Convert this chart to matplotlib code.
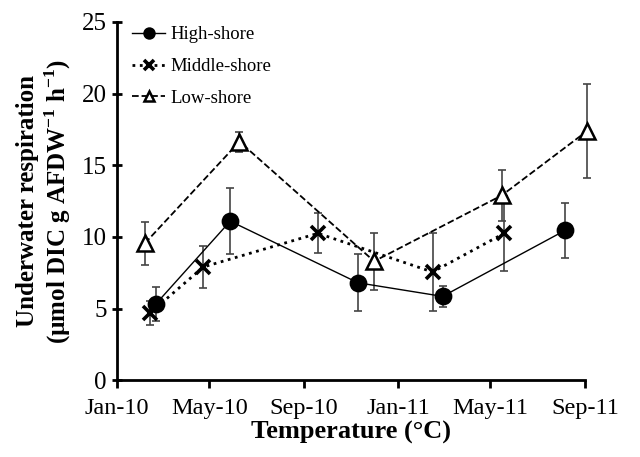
from datetime import datetime

import matplotlib

matplotlib.use("Agg")
import matplotlib.dates as mdates
import matplotlib.pyplot as plt

plt.rcParams["font.family"] = ["Liberation Serif", "DejaVu Serif"]
plt.rcParams["mathtext.fontset"] = "custom"
plt.rcParams["mathtext.rm"] = "Liberation Serif"
plt.rcParams["mathtext.bf"] = "Liberation Serif:bold"

# Sampling dates and respiration (mean +/- SE) per shore level
high_dates = ["2010-02-20", "2010-05-28", "2010-11-10", "2011-02-28", "2011-08-06"]
high_vals = [5.3, 11.1, 6.8, 5.85, 10.45]
high_err = [1.2, 2.3, 2.0, 0.75, 1.9]

mid_dates = ["2010-02-13", "2010-04-23", "2010-09-19", "2011-02-15", "2011-05-19"]
mid_vals = [4.7, 7.9, 10.25, 7.55, 10.25]
mid_err = [0.85, 1.45, 1.4, 2.7, 2.6]

low_dates = ["2010-02-06", "2010-06-09", "2010-12-01", "2011-05-16", "2011-09-04"]
low_vals = [9.55, 16.65, 8.3, 12.9, 17.4]
low_err = [1.5, 0.7, 2.0, 1.8, 3.3]

tick_dates = ["2010-01-01", "2010-05-01", "2010-09-01", "2011-01-01", "2011-05-01", "2011-09-01"]


def to_dt(values):
    return [datetime.strptime(v, "%Y-%m-%d") for v in values]


fig = plt.figure(figsize=(6.4, 4.57), dpi=100)
ax = fig.add_axes([0.183, 0.168, 0.731, 0.784])

series = [
    ("High-shore", high_dates, high_vals, high_err, "-", "o", "black", 1.0),
    ("Middle-shore", mid_dates, mid_vals, mid_err, ":", "x", "black", 2.0),
    ("Low-shore", low_dates, low_vals, low_err, "--", "^", "white", 1.3),
]

for label, dates, vals, errs, ls, marker, face, lw in series:
    x = to_dt(dates)
    ax.errorbar(x, vals, yerr=errs, fmt="none", ecolor="#444444", elinewidth=1.2,
                capsize=3, capthick=1.2, clip_on=False, zorder=2)
    ms = 11 if marker == "o" else (10 if marker == "x" else 11)
    mew = 2.6 if marker == "x" else 1.8
    ax.plot(x, vals, linestyle=ls, linewidth=lw, color="black", marker=marker,
            markersize=ms, markerfacecolor=face, markeredgecolor="black",
            markeredgewidth=mew, label=label, clip_on=False, zorder=3)

ticks = to_dt(tick_dates)
ax.set_xlim(ticks[0], ticks[-1])
ax.set_xticks(ticks)
ax.xaxis.set_major_formatter(mdates.DateFormatter("%b-%y"))
ax.set_ylim(0, 25)
ax.set_yticks([0, 5, 10, 15, 20, 25])

for side in ["top", "right"]:
    ax.spines[side].set_visible(False)
for side in ["left", "bottom"]:
    ax.spines[side].set_linewidth(2.0)

ax.tick_params(axis="x", direction="out", length=6, width=2, labelsize=17.5, pad=7)
ax.tick_params(axis="y", direction="inout", length=7, width=2, labelsize=18, pad=4)

ax.set_xlabel("Temperature (°C)", fontsize=19, fontweight="bold", labelpad=1)
ax.set_ylabel("Underwater respiration\n"
              r"(µmol DIC g AFDW$^{\mathbf{-1}}$ h$^{\mathbf{-1}}$)",
              fontsize=18, fontweight="bold", labelpad=6, linespacing=1.15)

ax.legend(loc="upper left", bbox_to_anchor=(-0.005, 1.035), frameon=False, fontsize=13.5,
          handlelength=1.8, handletextpad=0.25, labelspacing=0.78, numpoints=1,
          markerscale=0.65)

fig.savefig("out.png", dpi=100)
